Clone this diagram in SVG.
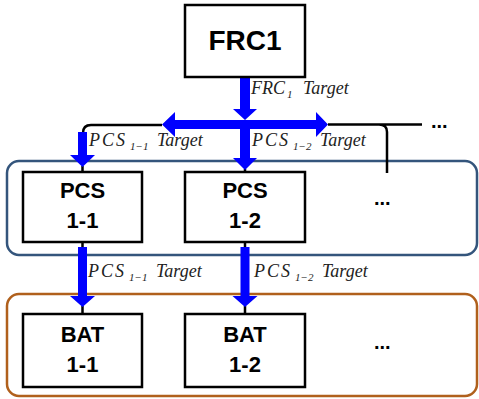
<svg xmlns="http://www.w3.org/2000/svg" width="479" height="399" viewBox="0 0 479 399">
<style>
.box{fill:#fff;stroke:#000;stroke-width:2.5}
.bt{font-family:"Liberation Sans",Arial,sans-serif;font-weight:bold;fill:#000;text-anchor:middle}
.lbl{font-family:"Liberation Serif","Times New Roman",serif;font-style:italic;font-size:18px;fill:#222}
.sp{letter-spacing:2px}
.sub{font-size:11px;letter-spacing:0}
.arr{fill:#0000ff}
.wire{fill:none;stroke:#000;stroke-width:2.5}
.dots{font-family:"Liberation Sans",Arial,sans-serif;font-weight:bold;font-size:20px;fill:#000}
</style>
<rect id="group-pcs" x="7" y="161" width="470" height="94" rx="12" fill="none" stroke="#34557c" stroke-width="2.5"/>
<rect id="group-bat" x="7" y="294" width="470" height="102" rx="12" fill="none" stroke="#b0601c" stroke-width="2.5"/>
<g id="connectors">
<path class="wire" d="M162 125 H91 Q83 125 83 133"/>
<path class="wire" d="M328 124.5 H422 M379 124.5 Q387 124.5 387 132 V173"/>
<path class="wire" d="M82.5 166 V172 M245 169 V172 M82.5 242 V248 M245 242 V248 M82.5 306 V314 M245 306 V314" stroke-width="2"/>
<path class="arr" d="M240 77 H250 V109 H257 L245 120 L233 109 H240 Z"/>
<path class="arr" d="M240 120 H250 V158 H257 L245 170 L233 158 H240 Z"/>
<path class="arr" d="M162 124.5 L175 112 V120 H316 V112 L328 124.5 L316 137 V129 H175 V137 Z"/>
<path class="arr" d="M78 132 H87 V155 H95 L82.5 167 L70 155 H78 Z"/>
<path class="arr" d="M78 247 H87 V296 H95 L82.5 307 L70 296 H78 Z"/>
<path class="arr" d="M240.5 247 H249.5 V296 H257.5 L245 307 L232.5 296 H240.5 Z"/>
<text class="lbl" x="251" y="94">FRC<tspan class="sub" x="287" y="98">1</tspan><tspan x="303" y="94">Target</tspan></text>
<text class="lbl" x="89" y="146"><tspan class="sp">PCS</tspan><tspan class="sub" x="130" y="150">1−1</tspan><tspan x="157" y="146">Target</tspan></text>
<text class="lbl" x="252" y="146"><tspan class="sp">PCS</tspan><tspan class="sub" x="293" y="150">1−2</tspan><tspan x="320" y="146">Target</tspan></text>
<text class="lbl" x="88" y="277"><tspan class="sp">PCS</tspan><tspan class="sub" x="129" y="281">1−1</tspan><tspan x="156" y="277">Target</tspan></text>
<text class="lbl" x="254" y="277"><tspan class="sp">PCS</tspan><tspan class="sub" x="295" y="281">1−2</tspan><tspan x="322" y="277">Target</tspan></text>
</g>
<g id="frc1"><rect class="box" x="185" y="5" width="120" height="72"/><text class="bt" x="245" y="50" font-size="28">FRC1</text></g>
<g id="pcs11"><rect class="box" x="23" y="172" width="119" height="70"/><text class="bt" x="82.5" y="198" font-size="22">PCS</text><text class="bt" x="82.5" y="228" font-size="22">1-1</text></g>
<g id="pcs12"><rect class="box" x="185" y="172" width="120" height="70"/><text class="bt" x="245" y="198" font-size="22">PCS</text><text class="bt" x="245" y="228" font-size="22">1-2</text></g>
<g id="bat11"><rect class="box" x="23" y="314" width="119" height="73"/><text class="bt" x="82.5" y="342" font-size="22">BAT</text><text class="bt" x="82.5" y="372" font-size="22">1-1</text></g>
<g id="bat12"><rect class="box" x="185" y="314" width="120" height="73"/><text class="bt" x="245" y="342" font-size="22">BAT</text><text class="bt" x="245" y="372" font-size="22">1-2</text></g>
<text class="dots" x="431" y="128">...</text>
<text class="dots" x="374" y="205">...</text>
<text class="dots" x="374" y="349">...</text>
</svg>
